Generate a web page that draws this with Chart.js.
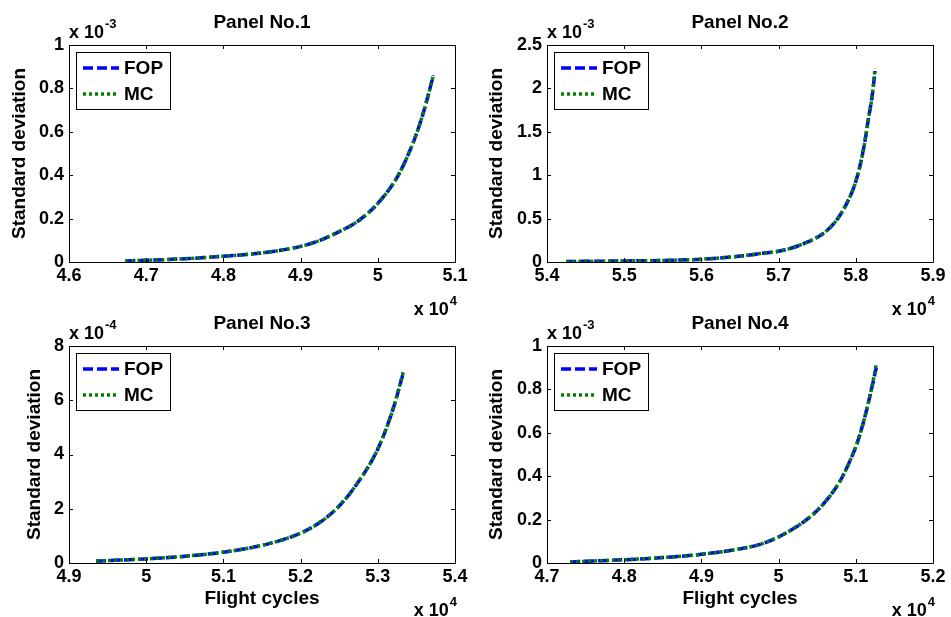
<!DOCTYPE html>
<html>
<head>
<meta charset="utf-8">
<script src="https://cdn.jsdelivr.net/npm/chart.js@4.4.1/dist/chart.umd.min.js"></script>
<style>
html, body { margin: 0; padding: 0; background: #fff; }
#wrap { position: relative; width: 951px; height: 617px; }
canvas { position: absolute; left: 0; top: 0; }
</style>
</head>
<body>
<div id="wrap">
  <canvas id="panel1" width="951" height="617"></canvas>
  <canvas id="panel2" width="951" height="617"></canvas>
  <canvas id="panel3" width="951" height="617"></canvas>
  <canvas id="panel4" width="951" height="617"></canvas>
</div>
<script>
// --- Data (y values in units of 10^yExp) ---
const titles = ['Panel No.1', 'Panel No.2', 'Panel No.3', 'Panel No.4'];
const seriesNames = ['FOP', 'MC'];

const cycles1 = [46730, 47000, 47500, 48000, 48500, 49000, 49250, 49500, 49750, 50000, 50250, 50400, 50500, 50600, 50720];
const fop1 = [0.005, 0.008, 0.015, 0.027, 0.042, 0.072, 0.10, 0.14, 0.19, 0.27, 0.39, 0.50, 0.59, 0.70, 0.86];
const mc1 = [0.005, 0.008, 0.015, 0.027, 0.042, 0.072, 0.10, 0.14, 0.19, 0.27, 0.39, 0.50, 0.59, 0.70, 0.86];

const cycles2 = [54250, 54500, 55000, 55500, 56000, 56500, 56760, 57060, 57320, 57580, 57750, 57880, 57990, 58060, 58120, 58160, 58210, 58250];
const fop2 = [0.005, 0.008, 0.012, 0.018, 0.032, 0.068, 0.097, 0.135, 0.21, 0.33, 0.48, 0.67, 0.90, 1.13, 1.40, 1.63, 1.90, 2.20];
const mc2 = [0.005, 0.008, 0.012, 0.018, 0.032, 0.068, 0.097, 0.135, 0.21, 0.33, 0.48, 0.67, 0.90, 1.13, 1.40, 1.63, 1.90, 2.23];

const cycles3 = [49350, 49500, 50000, 50500, 51000, 51500, 52000, 52250, 52500, 52750, 53000, 53200, 53330];
const fop3 = [0.07, 0.09, 0.15, 0.25, 0.40, 0.65, 1.1, 1.5, 2.1, 3.0, 4.2, 5.7, 7.0];
const mc3 = [0.07, 0.09, 0.15, 0.25, 0.40, 0.65, 1.1, 1.5, 2.1, 3.0, 4.2, 5.7, 7.05];

const cycles4 = [47300, 47500, 48000, 48500, 49000, 49500, 49760, 50000, 50200, 50400, 50600, 50800, 50930, 51010, 51100, 51190, 51265];
const fop4 = [0.005, 0.008, 0.015, 0.025, 0.04, 0.065, 0.086, 0.12, 0.16, 0.21, 0.28, 0.38, 0.475, 0.545, 0.65, 0.78, 0.90];
const mc4 = [0.005, 0.008, 0.015, 0.025, 0.04, 0.065, 0.086, 0.12, 0.16, 0.21, 0.28, 0.38, 0.475, 0.545, 0.65, 0.78, 0.915];

// axis ranges and tick steps
const xMin = [46000, 54000, 49000, 47000];
const xMax = [51000, 59000, 54000, 52000];
const yMax = [1, 2.5, 8, 1];
const yStep = [0.2, 0.5, 2, 0.2];
const yExp = [-3, -3, -4, -3];
const xExp = 4;

const cycles = [cycles1, cycles2, cycles3, cycles4];
const fop = [fop1, fop2, fop3, fop4];
const mc = [mc1, mc2, mc3, mc4];

// --- Layout (page pixels of each axes box) ---
const boxes = [
    { l: 69, t: 45, r: 455, b: 262, ylabX: 20 },
    { l: 547, t: 45, r: 933, b: 262, ylabX: 497 },
    { l: 69, t: 346, r: 455, b: 563, ylabX: 35 },
    { l: 547, t: 346, r: 933, b: 563, ylabX: 497 }
];
const W = 951, H = 617;
const FONT = "'Liberation Sans', Arial, Helvetica, sans-serif";
const Y_W = 60;

// Box, inward ticks, legend and exponent labels
const matlabAxes = {
    id: 'matlabAxes',
    afterDraw(chart, args, opts) {
        const ctx = chart.ctx;
        const a = chart.chartArea;
        const xs = chart.scales.x, ys = chart.scales.y;
        const px = v => Math.round(v) + 0.5;
        ctx.save();
        ctx.strokeStyle = '#000';
        ctx.lineWidth = 1;
        ctx.setLineDash([]);
        ctx.beginPath();
        ctx.rect(px(a.left), px(a.top), Math.round(a.right) - Math.round(a.left), Math.round(a.bottom) - Math.round(a.top));
        const tk = 4;
        xs.ticks.forEach(t => {
            const x = px(xs.getPixelForValue(t.value));
            ctx.moveTo(x, a.bottom); ctx.lineTo(x, a.bottom - tk);
            ctx.moveTo(x, a.top); ctx.lineTo(x, a.top + tk);
        });
        ys.ticks.forEach(t => {
            const y = px(ys.getPixelForValue(t.value));
            ctx.moveTo(a.left, y); ctx.lineTo(a.left + tk, y);
            ctx.moveTo(a.right, y); ctx.lineTo(a.right - tk, y);
        });
        ctx.stroke();

        // legend
        const lx = Math.round(a.left) + 7, ly = Math.round(a.top) + 7;
        const lw = 94, lh = 57;
        ctx.fillStyle = '#fff';
        ctx.fillRect(lx, ly, lw, lh);
        ctx.strokeRect(lx + 0.5, ly + 0.5, lw, lh);
        chart.data.datasets.forEach((ds, i) => {
            const yy = ly + 16 + i * 26;
            ctx.beginPath();
            ctx.strokeStyle = ds.borderColor;
            ctx.lineWidth = ds.borderWidth;
            ctx.setLineDash(ds.borderDash);
            ctx.moveTo(lx + 7, yy);
            ctx.lineTo(lx + 43, yy);
            ctx.stroke();
            ctx.setLineDash([]);
            ctx.fillStyle = '#000';
            ctx.font = 'bold 19px ' + FONT;
            ctx.textBaseline = 'middle';
            ctx.textAlign = 'left';
            ctx.fillText(ds.label, lx + 48, yy + 1);
        });

        // exponent labels
        ctx.fillStyle = '#000';
        ctx.textBaseline = 'alphabetic';
        ctx.textAlign = 'left';
        ctx.font = 'bold 18px ' + FONT;
        const base = 'x 10';
        const bw = ctx.measureText(base).width;
        ctx.fillText(base, a.left, a.top - 7);
        ctx.font = 'bold 13px ' + FONT;
        ctx.fillText(String(opts.yExp), a.left + bw + 1, a.top - 17);
        const sup = String(xExp);
        const sw = ctx.measureText(sup).width;
        ctx.fillText(sup, a.right + 2 - sw, a.bottom + 43);
        ctx.font = 'bold 18px ' + FONT;
        ctx.fillText(base, a.right + 1 - sw - bw, a.bottom + 53);
        ctx.restore();
    }
};

function makePanel(i) {
    const bx = boxes[i];
    const bottomRow = i >= 2;
    const xH = bottomRow ? H - bx.b : 38;
    const ctx = document.getElementById('panel' + (i + 1)).getContext('2d');
    const pts = arr => arr.map((v, k) => ({ x: cycles[i][k], y: v }));
    return new Chart(ctx, {
        type: 'line',
        data: {
            datasets: [{
                label: seriesNames[0],
                data: pts(fop[i]),
                borderColor: '#0000ff',
                borderWidth: 3.5,
                borderDash: [10, 4],
                pointRadius: 0,
                fill: false,
                order: 1,
                cubicInterpolationMode: 'monotone'
            }, {
                label: seriesNames[1],
                data: pts(mc[i]),
                borderColor: '#008000',
                borderWidth: 3.5,
                borderDash: [3, 3],
                pointRadius: 0,
                fill: false,
                order: 0,
                cubicInterpolationMode: 'monotone'
            }]
        },
        options: {
            responsive: false,
            animation: false,
            events: [],
            layout: {
                padding: {
                    left: bx.l - Y_W,
                    right: W - bx.r,
                    top: bx.t - 32,
                    bottom: H - bx.b - xH
                }
            },
            plugins: {
                legend: { display: false },
                tooltip: { enabled: false },
                title: {
                    display: true,
                    text: titles[i],
                    color: '#000',
                    fullSize: false,
                    font: { family: FONT, size: 19, weight: 'bold', lineHeight: 1 },
                    padding: { top: 0, bottom: 13 }
                },
                matlabAxes: { yExp: yExp[i] }
            },
            scales: {
                x: {
                    type: 'linear',
                    min: xMin[i],
                    max: xMax[i],
                    grid: { display: false, drawTicks: false },
                    border: { display: false },
                    ticks: {
                        stepSize: 1000,
                        autoSkip: false,
                        maxRotation: 0,
                        padding: 5,
                        color: '#000',
                        font: { family: FONT, size: 18, weight: 'bold', lineHeight: 1 },
                        callback: v => String(Math.round(v / 1000) / 10)
                    },
                    title: {
                        display: bottomRow,
                        text: 'Flight cycles',
                        color: '#000',
                        font: { family: FONT, size: 19, weight: 'bold', lineHeight: 1 },
                        padding: { top: 0, bottom: 8.5 }
                    },
                    afterFit: s => { s.height = xH; }
                },
                y: {
                    min: 0,
                    max: yMax[i],
                    grid: { display: false, drawTicks: false },
                    border: { display: false },
                    ticks: {
                        stepSize: yStep[i],
                        autoSkip: false,
                        padding: 5,
                        color: '#000',
                        font: { family: FONT, size: 18, weight: 'bold', lineHeight: 1 },
                        callback: v => String(parseFloat(v.toFixed(3)))
                    },
                    title: {
                        display: true,
                        text: 'Standard deviation',
                        color: '#000',
                        font: { family: FONT, size: 19, weight: 'bold', lineHeight: 1 },
                        padding: { top: bx.ylabX - (bx.l - Y_W) - 9.5, bottom: 0 }
                    },
                    afterFit: s => { s.width = Y_W; }
                }
            }
        },
        plugins: [matlabAxes]
    });
}

for (let i = 0; i < 4; i++) makePanel(i);
</script>
</body>
</html>
